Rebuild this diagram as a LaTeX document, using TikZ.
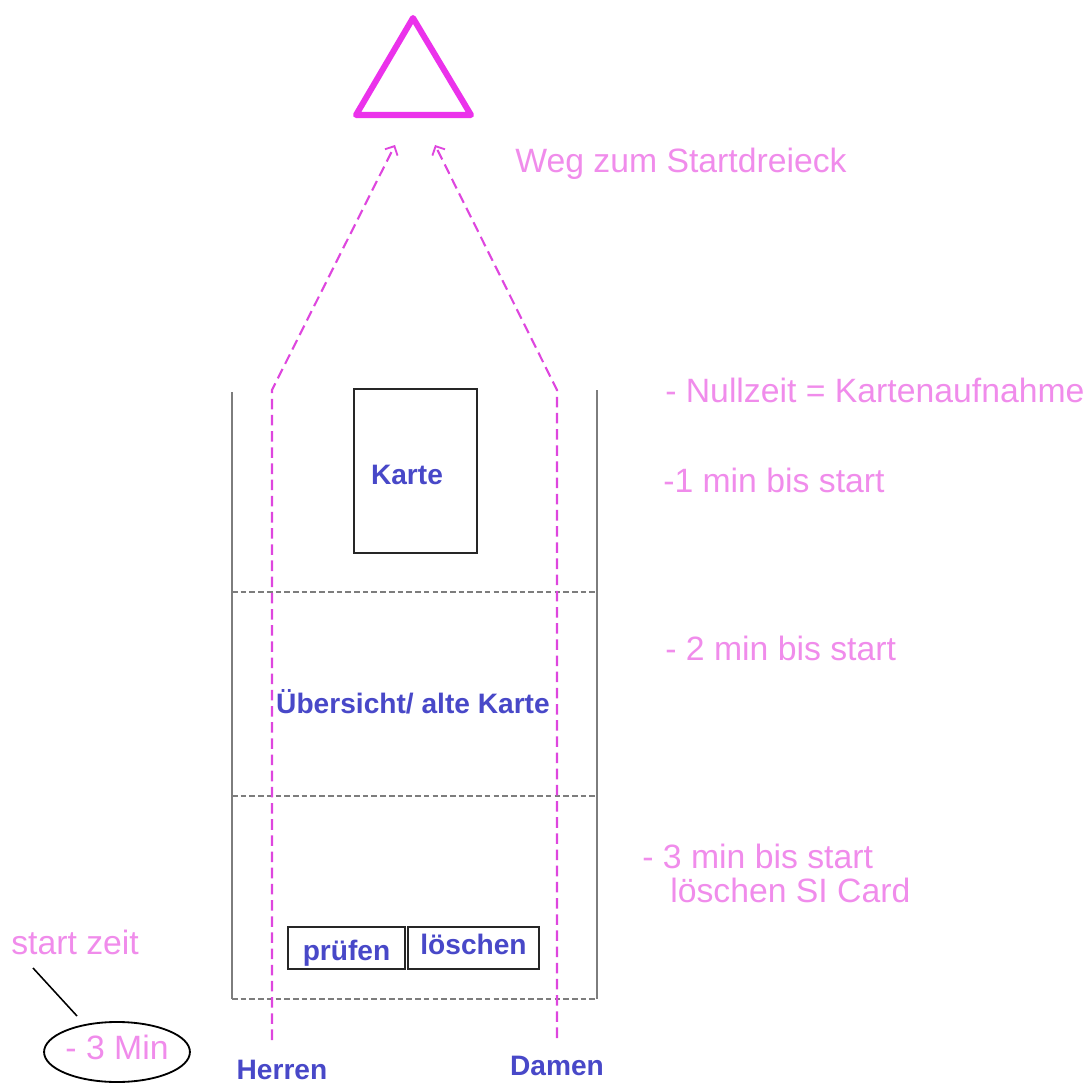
\documentclass[tikz,border=0pt]{standalone}
\usepackage{fontspec}
\setmainfont{Liberation Sans}
\usepackage{tikz}
\usetikzlibrary{arrows.meta,shapes.geometric}
\definecolor{rosa}{RGB}{240,140,235}
\definecolor{magenta2}{RGB}{235,50,235}
\definecolor{wegfarbe}{RGB}{222,70,222}
\definecolor{blau}{RGB}{72,72,200}
\definecolor{wandgrau}{RGB}{125,125,125}

\begin{document}
\begin{tikzpicture}[x=0.025cm,y=-0.025cm,
  wand/.style={draw=wandgrau,line width=1.5pt},
  grenze/.style={draw=wandgrau,line width=1.3pt,dash pattern=on 4pt off 2.2pt},
  weg/.style={draw=wegfarbe,line width=1.5pt,dash pattern=on 7.5pt off 4pt,
    -{Straight Barb[length=5pt,width=10pt,line width=1.3pt]}},
  kasten/.style={draw=black!85,line width=1.4pt,rectangle,inner sep=0pt},
  rosatext/.style={text=rosa,font=\fontsize{24pt}{28pt}\selectfont,inner sep=0pt,anchor=base west},
  blautext/.style={text=blau,font=\fontsize{20pt}{24pt}\selectfont\bfseries,inner sep=0pt}]
\useasboundingbox (0,0) rectangle (1088,1084);
% Startdreieck
\coordinate (S) at (413,18);
\coordinate (SL) at (356,115);
\coordinate (SR) at (471,115);
\draw[magenta2,line width=4.3pt,line join=round] (S)--(SL)--(SR)--cycle;
% Startkorridor
\coordinate (WLo) at (232,392);
\coordinate (WLu) at (232,999);
\coordinate (WRo) at (597,390);
\coordinate (WRu) at (597,999);
\draw[wand] (WLo)--(WLu);
\draw[wand] (WRo)--(WRu);
\draw[grenze] (WLu)--(WRu);
\draw[grenze] (232,592)--(597,592);
\draw[grenze] (232,796)--(597,796);
% Boxen
\node[kasten,minimum width=3.075cm,minimum height=4.1cm] (karte) at (415.5,471) {};
\node[blautext] (kartetext) at (407,475) {Karte};
\node[blautext] (uebersicht) at (413,702) {Übersicht/ alte Karte};
\node[kasten,blautext,draw=black!85,minimum width=2.925cm,text height=23.5pt,text depth=6.4pt] (pruefen) at (346.5,948) {prüfen};
\node[kasten,blautext,draw=black!85,minimum width=3.275cm,text height=19.9pt,text depth=10pt] (loeschen) at (473.5,948) {löschen};
% Wege
\coordinate (Hfuss) at (272,1040);
\coordinate (Hknick) at (272,390);
\coordinate (Hziel) at (395,145);
\coordinate (Dfuss) at (557,1038);
\coordinate (Dknick) at (557,390);
\coordinate (Dziel) at (435,145);
\draw[weg] (Hfuss)--(Hknick)--(Hziel);
\draw[weg] (Dfuss)--(Dknick)--(Dziel);
\node[blautext] (herren) at (282,1070) {Herren};
\node[blautext] (damen) at (557,1066) {Damen};
% Beschriftung rechts
\node[rosatext] (weg) at (515,173) {Weg zum Startdreieck};
\node[rosatext] (null) at (665,402) {- Nullzeit = Kartenaufnahme};
\node[rosatext] (eins) at (663,492) {-1 min bis start};
\node[rosatext] (zwei) at (665,660) {- 2 min bis start};
\node[rosatext] (drei) at (642,868) {- 3 min bis start};
\node[rosatext] (si) at (670,902) {löschen SI Card};
% Startzeit links
\node[rosatext] (startzeit) at (11,954) {start zeit};
\node[draw,ellipse,line width=1.3pt,inner sep=0pt,minimum width=3.35cm,minimum height=1.5cm,
  text=rosa,font=\fontsize{24pt}{28pt}\selectfont,text height=17pt,text depth=7pt] (minus) at (117,1052) {- 3 Min};
\coordinate (Za) at (33,968);
\coordinate (Zb) at (77,1016);
\draw[line width=1.1pt] (Za)--(Zb);
\end{tikzpicture}
\end{document}
